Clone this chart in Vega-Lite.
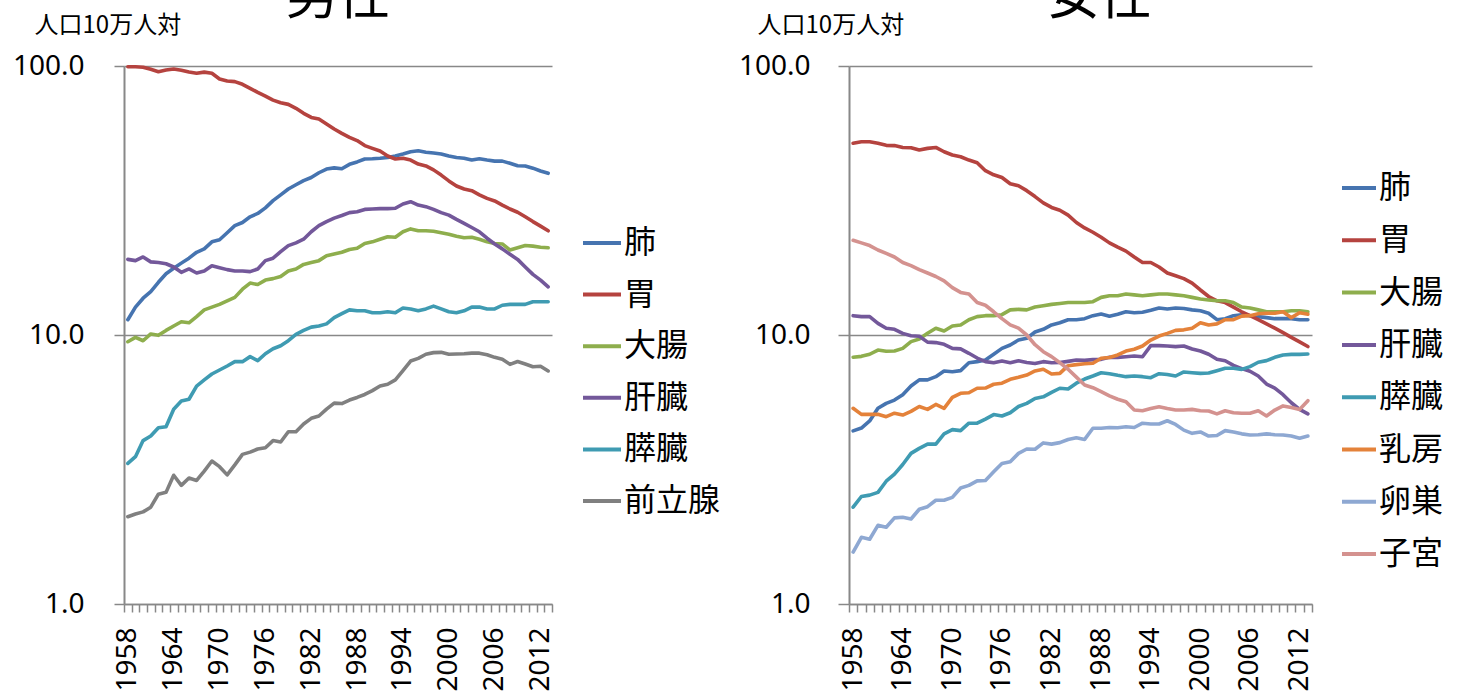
{
  "$schema": "https://vega.github.io/schema/vega-lite/v6.json",
  "background": "white",
  "padding": {"left": 12, "top": -28, "right": 0, "bottom": 0},
  "config": {
    "view": {"stroke": null},
    "axis": {"labelColor": "black", "titleColor": "black"},
    "legend": {"labelColor": "black"}
  },
  "spacing": 17,
  "resolve": {"scale": {"color": "independent"}, "legend": {"color": "independent"}},
  "datasets": {
    "male": [
      {"year":1958,"肺":11.4,"胃":99.4,"大腸":9.44,"肝臓":19.1,"膵臓":3.33,"前立腺":2.11},
      {"year":1959,"肺":12.7,"胃":99.4,"大腸":9.8,"肝臓":18.9,"膵臓":3.53,"前立腺":2.16},
      {"year":1960,"肺":13.7,"胃":99.0,"大腸":9.52,"肝臓":19.5,"膵臓":4.05,"前立腺":2.20},
      {"year":1961,"肺":14.5,"胃":97.2,"大腸":10.09,"肝臓":18.7,"膵臓":4.21,"前立腺":2.29},
      {"year":1962,"肺":15.7,"胃":95.2,"大腸":9.97,"肝臓":18.6,"膵臓":4.52,"前立腺":2.56},
      {"year":1963,"肺":16.9,"胃":96.6,"大腸":10.4,"肝臓":18.4,"膵臓":4.56,"前立腺":2.60},
      {"year":1964,"肺":17.7,"胃":97.5,"大腸":10.8,"肝臓":17.9,"膵臓":5.30,"前立腺":3.01},
      {"year":1965,"肺":18.5,"胃":96.5,"大腸":11.2,"肝臓":17.1,"膵臓":5.68,"前立腺":2.76},
      {"year":1966,"肺":19.3,"胃":95.0,"大腸":11.1,"肝臓":17.6,"膵臓":5.77,"前立腺":2.94},
      {"year":1967,"肺":20.3,"胃":94.0,"大腸":11.7,"肝臓":17.0,"膵臓":6.46,"前立腺":2.88},
      {"year":1968,"肺":20.9,"胃":94.9,"大腸":12.4,"肝臓":17.3,"膵臓":6.81,"前立腺":3.12},
      {"year":1969,"肺":22.2,"胃":94.0,"大腸":12.7,"肝臓":18.1,"膵臓":7.16,"前立腺":3.40},
      {"year":1970,"肺":22.6,"胃":89.5,"大腸":13.0,"肝臓":17.8,"膵臓":7.41,"前立腺":3.24},
      {"year":1971,"肺":24.0,"胃":88.0,"大腸":13.4,"肝臓":17.5,"膵臓":7.67,"前立腺":3.02},
      {"year":1972,"肺":25.5,"胃":87.5,"大腸":13.8,"肝臓":17.3,"膵臓":7.96,"前立腺":3.29},
      {"year":1973,"肺":26.2,"胃":85.5,"大腸":14.8,"肝臓":17.3,"膵臓":7.96,"前立腺":3.60},
      {"year":1974,"肺":27.5,"胃":82.6,"大腸":15.6,"肝臓":17.2,"膵臓":8.31,"前立腺":3.67},
      {"year":1975,"肺":28.3,"胃":79.8,"大腸":15.4,"肝臓":17.6,"膵臓":8.03,"前立腺":3.77},
      {"year":1976,"肺":29.7,"胃":77.3,"大腸":16.0,"肝臓":18.9,"膵臓":8.52,"前立腺":3.81},
      {"year":1977,"肺":31.6,"胃":74.7,"大腸":16.2,"肝臓":19.3,"膵臓":8.89,"前立腺":4.05},
      {"year":1978,"肺":33.2,"胃":73.0,"大腸":16.5,"肝臓":20.4,"膵臓":9.12,"前立腺":4.00},
      {"year":1979,"肺":34.9,"胃":72.0,"大腸":17.3,"肝臓":21.5,"膵臓":9.52,"前立腺":4.37},
      {"year":1980,"肺":36.2,"胃":69.6,"大腸":17.6,"肝臓":22.0,"膵臓":10.06,"前立腺":4.37},
      {"year":1981,"肺":37.5,"胃":66.7,"大腸":18.3,"肝臓":22.7,"膵臓":10.4,"前立腺":4.67},
      {"year":1982,"肺":38.5,"胃":64.4,"大腸":18.6,"肝臓":24.2,"膵臓":10.7,"前立腺":4.90},
      {"year":1983,"肺":40.1,"胃":63.5,"大腸":18.9,"肝臓":25.5,"膵臓":10.8,"前立腺":5.00},
      {"year":1984,"肺":41.4,"胃":60.9,"大腸":19.7,"肝臓":26.4,"膵臓":11.0,"前立腺":5.30},
      {"year":1985,"肺":41.8,"胃":58.3,"大腸":20.0,"肝臓":27.2,"膵臓":11.6,"前立腺":5.58},
      {"year":1986,"肺":41.5,"胃":56.2,"大腸":20.3,"肝臓":27.8,"膵臓":12.0,"前立腺":5.56},
      {"year":1987,"肺":43.1,"胃":54.3,"大腸":20.8,"肝臓":28.5,"膵臓":12.4,"前立腺":5.73},
      {"year":1988,"肺":44.0,"胃":52.8,"大腸":21.0,"肝臓":28.7,"膵臓":12.3,"前立腺":5.86},
      {"year":1989,"肺":45.1,"胃":50.6,"大腸":21.9,"肝臓":29.3,"膵臓":12.3,"前立腺":6.01},
      {"year":1990,"肺":45.2,"胃":49.4,"大腸":22.2,"肝臓":29.4,"膵臓":12.1,"前立腺":6.21},
      {"year":1991,"肺":45.4,"胃":48.3,"大腸":22.7,"肝臓":29.5,"膵臓":12.1,"前立腺":6.46},
      {"year":1992,"肺":45.7,"胃":46.3,"大腸":23.2,"肝臓":29.5,"膵臓":12.2,"前立腺":6.56},
      {"year":1993,"肺":46.3,"胃":45.1,"大腸":23.1,"肝臓":29.6,"膵臓":12.1,"前立腺":6.81},
      {"year":1994,"肺":47.1,"胃":45.4,"大腸":24.2,"肝臓":30.7,"膵臓":12.6,"前立腺":7.37},
      {"year":1995,"肺":48.0,"胃":44.7,"大腸":24.8,"肝臓":31.3,"膵臓":12.5,"前立腺":8.00},
      {"year":1996,"肺":48.4,"胃":43.2,"大腸":24.4,"肝臓":30.4,"膵臓":12.3,"前立腺":8.19},
      {"year":1997,"肺":47.8,"胃":42.5,"大腸":24.4,"肝臓":30.0,"膵臓":12.5,"前立腺":8.48},
      {"year":1998,"肺":47.5,"胃":41.1,"大腸":24.3,"肝臓":29.3,"膵臓":12.8,"前立腺":8.60},
      {"year":1999,"肺":47.1,"胃":39.3,"大腸":24.0,"肝臓":28.5,"膵臓":12.5,"前立腺":8.62},
      {"year":2000,"肺":46.3,"胃":37.4,"大腸":23.7,"肝臓":27.9,"膵臓":12.2,"前立腺":8.48},
      {"year":2001,"肺":45.7,"胃":35.8,"大腸":23.3,"肝臓":26.9,"膵臓":12.1,"前立腺":8.50},
      {"year":2002,"肺":45.4,"胃":34.9,"大腸":23.0,"肝臓":26.0,"膵臓":12.3,"前立腺":8.52},
      {"year":2003,"肺":44.7,"胃":34.4,"大腸":23.1,"肝臓":25.1,"膵臓":12.7,"前立腺":8.56},
      {"year":2004,"肺":45.2,"胃":33.2,"大腸":22.7,"肝臓":24.2,"膵臓":12.7,"前立腺":8.56},
      {"year":2005,"肺":44.7,"胃":32.2,"大腸":22.2,"肝臓":22.9,"膵臓":12.5,"前立腺":8.45},
      {"year":2006,"肺":44.3,"胃":31.5,"大腸":21.9,"肝臓":21.8,"膵臓":12.5,"前立腺":8.26},
      {"year":2007,"肺":44.3,"胃":30.4,"大腸":21.8,"肝臓":20.9,"膵臓":12.9,"前立腺":8.12},
      {"year":2008,"肺":43.5,"胃":29.4,"大腸":20.7,"肝臓":19.95,"膵臓":13.0,"前立腺":7.78},
      {"year":2009,"肺":42.6,"胃":28.6,"大腸":21.1,"肝臓":19.1,"膵臓":13.0,"前立腺":7.97},
      {"year":2010,"肺":42.5,"胃":27.5,"大腸":21.5,"肝臓":17.9,"膵臓":13.0,"前立腺":7.80},
      {"year":2011,"肺":41.7,"胃":26.4,"大腸":21.4,"肝臓":16.8,"膵臓":13.3,"前立腺":7.62},
      {"year":2012,"肺":40.7,"胃":25.4,"大腸":21.2,"肝臓":16.0,"膵臓":13.3,"前立腺":7.65},
      {"year":2013,"肺":39.9,"胃":24.4,"大腸":21.1,"肝臓":15.1,"膵臓":13.3,"前立腺":7.35}
    ],
    "female": [
      {"year":1958,"肺":4.40,"胃":51.6,"大腸":8.27,"肝臓":11.8,"膵臓":2.29,"乳房":5.34,"卵巣":1.56,"子宮":22.5},
      {"year":1959,"肺":4.51,"胃":52.3,"大腸":8.33,"肝臓":11.7,"膵臓":2.51,"乳房":5.07,"卵巣":1.77,"子宮":22.0},
      {"year":1960,"肺":4.79,"胃":52.3,"大腸":8.48,"肝臓":11.7,"膵臓":2.54,"乳房":5.07,"卵巣":1.74,"子宮":21.5},
      {"year":1961,"肺":5.34,"胃":51.6,"大腸":8.79,"肝臓":11.05,"膵臓":2.60,"乳房":5.07,"卵巣":1.96,"子宮":20.7},
      {"year":1962,"肺":5.57,"胃":50.7,"大腸":8.70,"肝臓":10.6,"膵臓":2.86,"乳房":4.97,"卵巣":1.93,"子宮":20.1},
      {"year":1963,"肺":5.73,"胃":50.6,"大腸":8.72,"肝臓":10.5,"膵臓":3.04,"乳房":5.12,"卵巣":2.09,"子宮":19.5},
      {"year":1964,"肺":6.00,"胃":49.8,"大腸":8.92,"肝臓":10.14,"膵臓":3.30,"乳房":5.04,"卵巣":2.10,"子宮":18.6},
      {"year":1965,"肺":6.46,"胃":49.7,"大腸":9.45,"肝臓":9.94,"膵臓":3.63,"乳房":5.20,"卵巣":2.07,"子宮":18.1},
      {"year":1966,"肺":6.81,"胃":48.7,"大腸":9.66,"肝臓":9.90,"膵臓":3.79,"乳房":5.42,"卵巣":2.25,"子宮":17.5},
      {"year":1967,"肺":6.81,"胃":49.4,"大腸":10.15,"肝臓":9.41,"膵臓":3.93,"乳房":5.29,"卵巣":2.30,"子宮":17.0},
      {"year":1968,"肺":7.00,"胃":49.8,"大腸":10.6,"肝臓":9.37,"膵臓":3.93,"乳房":5.52,"卵巣":2.43,"子宮":16.5},
      {"year":1969,"肺":7.35,"胃":48.0,"大腸":10.35,"肝臓":9.23,"膵臓":4.29,"乳房":5.34,"卵巣":2.43,"子宮":15.9},
      {"year":1970,"肺":7.30,"胃":46.7,"大腸":10.8,"肝臓":8.92,"膵臓":4.45,"乳房":5.86,"卵巣":2.49,"子宮":15.0},
      {"year":1971,"肺":7.37,"胃":46.0,"大腸":10.9,"肝臓":8.88,"膵臓":4.41,"乳房":6.07,"卵巣":2.70,"子宮":14.4},
      {"year":1972,"肺":7.89,"胃":44.7,"大腸":11.4,"肝臓":8.55,"膵臓":4.70,"乳房":6.10,"卵巣":2.76,"子宮":14.2},
      {"year":1973,"肺":7.96,"胃":43.7,"大腸":11.7,"肝臓":8.21,"膵臓":4.70,"乳房":6.34,"卵巣":2.87,"子宮":13.2},
      {"year":1974,"肺":8.07,"胃":40.8,"大腸":11.8,"肝臓":7.96,"膵臓":4.87,"乳房":6.35,"卵巣":2.88,"子宮":12.9},
      {"year":1975,"肺":8.48,"胃":39.4,"大腸":11.8,"肝臓":7.89,"膵臓":5.06,"乳房":6.56,"卵巣":3.10,"子宮":12.2},
      {"year":1976,"肺":8.92,"胃":38.5,"大腸":11.9,"肝臓":8.00,"膵臓":5.00,"乳房":6.62,"卵巣":3.33,"子宮":11.5},
      {"year":1977,"肺":9.18,"胃":36.5,"大腸":12.4,"肝臓":7.89,"膵臓":5.14,"乳房":6.84,"卵巣":3.38,"子宮":10.9},
      {"year":1978,"肺":9.58,"胃":35.9,"大腸":12.45,"肝臓":8.02,"膵臓":5.42,"乳房":6.96,"卵巣":3.63,"子宮":10.6},
      {"year":1979,"肺":9.72,"胃":34.4,"大腸":12.4,"肝臓":7.90,"膵臓":5.57,"乳房":7.10,"卵巣":3.77,"子宮":10.0},
      {"year":1980,"肺":10.26,"胃":32.7,"大腸":12.7,"肝臓":7.84,"膵臓":5.81,"乳房":7.35,"卵巣":3.76,"子宮":9.2},
      {"year":1981,"肺":10.5,"胃":31.0,"大腸":12.85,"肝臓":7.96,"膵臓":5.89,"乳房":7.46,"卵巣":3.97,"子宮":8.67},
      {"year":1982,"肺":10.9,"胃":29.8,"大腸":13.0,"肝臓":7.89,"膵臓":6.12,"乳房":7.16,"卵巣":3.93,"子宮":8.31},
      {"year":1983,"肺":11.1,"胃":29.1,"大腸":13.1,"肝臓":7.90,"膵臓":6.34,"乳房":7.20,"卵巣":3.98,"子宮":7.89},
      {"year":1984,"肺":11.4,"胃":27.9,"大腸":13.2,"肝臓":7.98,"膵臓":6.30,"乳房":7.69,"卵巣":4.09,"子宮":7.46},
      {"year":1985,"肺":11.4,"胃":26.2,"大腸":13.2,"肝臓":8.07,"膵臓":6.62,"乳房":7.76,"卵巣":4.15,"子宮":6.97},
      {"year":1986,"肺":11.5,"胃":25.0,"大腸":13.2,"肝臓":8.05,"膵臓":6.86,"乳房":7.82,"卵巣":4.09,"子宮":6.52},
      {"year":1987,"肺":11.8,"胃":24.1,"大腸":13.3,"肝臓":8.10,"膵臓":7.04,"乳房":7.85,"卵巣":4.50,"子宮":6.37},
      {"year":1988,"肺":11.97,"胃":23.1,"大腸":13.8,"肝臓":8.12,"膵臓":7.24,"乳房":8.19,"卵巣":4.50,"子宮":6.16},
      {"year":1989,"肺":11.75,"胃":22.0,"大腸":14.0,"肝臓":8.26,"膵臓":7.18,"乳房":8.25,"卵巣":4.53,"子宮":5.94},
      {"year":1990,"肺":11.95,"胃":21.2,"大腸":14.0,"肝臓":8.26,"膵臓":7.08,"乳房":8.43,"卵巣":4.52,"子宮":5.77},
      {"year":1991,"肺":12.2,"胃":20.5,"大腸":14.2,"肝臓":8.30,"膵臓":7.00,"乳房":8.72,"卵巣":4.56,"子宮":5.65},
      {"year":1992,"肺":12.1,"胃":19.5,"大腸":14.1,"肝臓":8.35,"膵臓":7.04,"乳房":8.85,"卵巣":4.53,"子宮":5.26},
      {"year":1993,"肺":12.15,"胃":18.6,"大腸":14.0,"肝臓":8.30,"膵臓":7.00,"乳房":9.10,"卵巣":4.70,"子宮":5.23},
      {"year":1994,"肺":12.35,"胃":18.6,"大腸":14.1,"肝臓":9.13,"膵臓":6.94,"乳房":9.58,"卵巣":4.67,"子宮":5.33},
      {"year":1995,"肺":12.6,"胃":17.9,"大腸":14.2,"肝臓":9.13,"膵臓":7.18,"乳房":9.91,"卵巣":4.67,"子宮":5.41},
      {"year":1996,"肺":12.5,"胃":17.0,"大腸":14.2,"肝臓":9.10,"膵臓":7.13,"乳房":10.14,"卵巣":4.80,"子宮":5.33},
      {"year":1997,"肺":12.6,"胃":16.6,"大腸":14.1,"肝臓":9.05,"膵臓":7.04,"乳房":10.4,"卵巣":4.65,"子宮":5.26},
      {"year":1998,"肺":12.55,"胃":16.2,"大腸":14.0,"肝臓":9.10,"膵臓":7.29,"乳房":10.45,"卵巣":4.43,"子宮":5.26},
      {"year":1999,"肺":12.4,"胃":15.6,"大腸":13.8,"肝臓":8.87,"膵臓":7.24,"乳房":10.6,"卵巣":4.31,"子宮":5.29},
      {"year":2000,"肺":12.3,"胃":14.7,"大腸":13.6,"肝臓":8.72,"膵臓":7.20,"乳房":11.1,"卵巣":4.36,"子宮":5.23},
      {"year":2001,"肺":12.05,"胃":13.9,"大腸":13.5,"肝臓":8.48,"膵臓":7.22,"乳房":10.9,"卵巣":4.21,"子宮":5.22},
      {"year":2002,"肺":11.4,"胃":13.4,"大腸":13.4,"肝臓":8.12,"膵臓":7.37,"乳房":11.0,"卵巣":4.23,"子宮":5.09},
      {"year":2003,"肺":11.5,"胃":13.2,"大腸":13.4,"肝臓":8.02,"膵臓":7.52,"乳房":11.4,"卵巣":4.41,"子宮":5.23},
      {"year":2004,"肺":11.8,"胃":12.7,"大腸":13.2,"肝臓":7.71,"膵臓":7.52,"乳房":11.4,"卵巣":4.36,"子宮":5.14},
      {"year":2005,"肺":11.9,"胃":12.2,"大腸":12.7,"肝臓":7.50,"膵臓":7.45,"乳房":11.75,"卵巣":4.29,"子宮":5.12},
      {"year":2006,"肺":11.8,"胃":11.8,"大腸":12.6,"肝臓":7.33,"膵臓":7.63,"乳房":11.8,"卵巣":4.25,"子宮":5.12},
      {"year":2007,"肺":11.7,"胃":11.4,"大腸":12.4,"肝臓":7.04,"膵臓":7.92,"乳房":12.0,"卵巣":4.26,"子宮":5.23},
      {"year":2008,"肺":11.6,"胃":11.0,"大腸":12.2,"肝臓":6.57,"膵臓":8.03,"乳房":12.05,"卵巣":4.29,"子宮":5.00},
      {"year":2009,"肺":11.5,"胃":10.6,"大腸":12.2,"肝臓":6.35,"膵臓":8.26,"乳房":12.05,"卵巣":4.26,"子宮":5.26},
      {"year":2010,"肺":11.5,"胃":10.2,"大腸":12.2,"肝臓":6.00,"膵臓":8.43,"乳房":12.2,"卵巣":4.25,"子宮":5.45},
      {"year":2011,"肺":11.5,"胃":9.8,"大腸":12.3,"肝臓":5.60,"膵臓":8.47,"乳房":11.6,"卵巣":4.21,"子宮":5.38},
      {"year":2012,"肺":11.4,"胃":9.43,"大腸":12.3,"肝臓":5.29,"膵臓":8.47,"乳房":12.1,"卵巣":4.13,"子宮":5.29},
      {"year":2013,"肺":11.4,"胃":9.06,"大腸":12.2,"肝臓":5.09,"膵臓":8.50,"乳房":11.95,"卵巣":4.21,"子宮":5.70}
    ]
  },
  "hconcat": [
    {
      "width": 428,
      "height": 538,
      "title": {"text": "男性", "fontSize": 52, "font": "Noto Sans CJK JP", "fontWeight": "normal", "color": "black", "anchor": "middle", "offset": 0, "dy": 12},
      "data": {"name": "male"},
      "transform": [{"fold": ["肺", "胃", "大腸", "肝臓", "膵臓", "前立腺"], "as": ["site", "rate"]}],
      "mark": {"type": "line", "strokeWidth": 3.6, "strokeJoin": "round", "strokeCap": "round"},
      "encoding": {
        "x": {
          "field": "year", "type": "quantitative",
          "scale": {"domain": [1957.5, 2013.5], "nice": false, "zero": false},
          "axis": {
            "title": null, "grid": false,
            "values": [1957.5,1958.5,1959.5,1960.5,1961.5,1962.5,1963.5,1964.5,1965.5,1966.5,1967.5,1968.5,1969.5,1970.5,1971.5,1972.5,1973.5,1974.5,1975.5,1976.5,1977.5,1978.5,1979.5,1980.5,1981.5,1982.5,1983.5,1984.5,1985.5,1986.5,1987.5,1988.5,1989.5,1990.5,1991.5,1992.5,1993.5,1994.5,1995.5,1996.5,1997.5,1998.5,1999.5,2000.5,2001.5,2002.5,2003.5,2004.5,2005.5,2006.5,2007.5,2008.5,2009.5,2010.5,2011.5,2012.5,2013.5],
            "labelExpr": "(datum.value + 0.5 - 1958) % 6 === 0 ? '' + (datum.value + 0.5) : ''",
            "labelOffset": 3.8,
            "labelAngle": 270, "labelAlign": "right", "labelBaseline": "middle",
            "labelFont": "Noto Sans", "labelFontSize": 28, "labelPadding": 15,
            "labelOverlap": false, "labelFlush": false, "labelBound": false,
            "tickSize": 8, "tickColor": "#888888", "tickWidth": 1.5,
            "domainColor": "#888888", "domainWidth": 1.5
          }
        },
        "y": {
          "field": "rate", "type": "quantitative",
          "scale": {"type": "log", "domain": [1, 100], "nice": false},
          "axis": {
            "values": [1, 10, 100], "format": ".1f",
            "grid": true, "gridColor": "#888888", "gridWidth": 1.5,
            "tickSize": 10, "tickColor": "#888888", "tickWidth": 1.5,
            "domainColor": "#888888", "domainWidth": 2,
            "labelFont": "Noto Sans", "labelFontSize": 28, "labelPadding": 30,
            "title": "人口10万人対", "titleFont": "Noto Sans CJK JP", "titleFontSize": 24, "titleFontWeight": "normal",
            "titleAngle": 0, "titleAlign": "left", "titleBaseline": "middle", "titleX": -90, "titleY": -41
          }
        },
        "color": {
          "field": "site", "type": "nominal",
          "scale": {"domain": ["肺", "胃", "大腸", "肝臓", "膵臓", "前立腺"], "range": ["#4674B0", "#B5433F", "#8EAE4D", "#73589A", "#3F9BB2", "#808080"]},
          "legend": {
            "orient": "none", "legendX": 457, "legendY": 156, "title": null,
            "symbolType": "stroke", "symbolSize": 1444, "symbolStrokeWidth": 4,
            "labelFont": "Noto Sans CJK JP", "labelFontSize": 32, "labelOffset": 1, "rowPadding": 14.6
          }
        }
      }
    },
    {
      "width": 463,
      "height": 538,
      "title": {"text": "女性", "fontSize": 52, "font": "Noto Sans CJK JP", "fontWeight": "normal", "color": "black", "anchor": "middle", "offset": 0, "dy": 12, "dx": 19},
      "data": {"name": "female"},
      "transform": [{"fold": ["肺", "胃", "大腸", "肝臓", "膵臓", "乳房", "卵巣", "子宮"], "as": ["site", "rate"]}],
      "mark": {"type": "line", "strokeWidth": 3.6, "strokeJoin": "round", "strokeCap": "round"},
      "encoding": {
        "x": {
          "field": "year", "type": "quantitative",
          "scale": {"domain": [1957.5, 2013.5], "nice": false, "zero": false},
          "axis": {
            "title": null, "grid": false,
            "values": [1957.5,1958.5,1959.5,1960.5,1961.5,1962.5,1963.5,1964.5,1965.5,1966.5,1967.5,1968.5,1969.5,1970.5,1971.5,1972.5,1973.5,1974.5,1975.5,1976.5,1977.5,1978.5,1979.5,1980.5,1981.5,1982.5,1983.5,1984.5,1985.5,1986.5,1987.5,1988.5,1989.5,1990.5,1991.5,1992.5,1993.5,1994.5,1995.5,1996.5,1997.5,1998.5,1999.5,2000.5,2001.5,2002.5,2003.5,2004.5,2005.5,2006.5,2007.5,2008.5,2009.5,2010.5,2011.5,2012.5,2013.5],
            "labelExpr": "(datum.value + 0.5 - 1958) % 6 === 0 ? '' + (datum.value + 0.5) : ''",
            "labelOffset": 4.1,
            "labelAngle": 270, "labelAlign": "right", "labelBaseline": "middle",
            "labelFont": "Noto Sans", "labelFontSize": 28, "labelPadding": 15,
            "labelOverlap": false, "labelFlush": false, "labelBound": false,
            "tickSize": 8, "tickColor": "#888888", "tickWidth": 1.5,
            "domainColor": "#888888", "domainWidth": 1.5
          }
        },
        "y": {
          "field": "rate", "type": "quantitative",
          "scale": {"type": "log", "domain": [1, 100], "nice": false},
          "axis": {
            "values": [1, 10, 100], "format": ".1f",
            "grid": true, "gridColor": "#888888", "gridWidth": 1.5,
            "tickSize": 11, "tickColor": "#888888", "tickWidth": 1.5,
            "domainColor": "#888888", "domainWidth": 2,
            "labelFont": "Noto Sans", "labelFontSize": 28, "labelPadding": 28,
            "title": "人口10万人対", "titleFont": "Noto Sans CJK JP", "titleFontSize": 24, "titleFontWeight": "normal",
            "titleAngle": 0, "titleAlign": "left", "titleBaseline": "middle", "titleX": -92, "titleY": -41
          }
        },
        "color": {
          "field": "site", "type": "nominal",
          "scale": {"domain": ["肺", "胃", "大腸", "肝臓", "膵臓", "乳房", "卵巣", "子宮"], "range": ["#4674B0", "#B5433F", "#8EAE4D", "#73589A", "#3F9BB2", "#E4823A", "#8EA8D2", "#D4928F"]},
          "legend": {
            "orient": "none", "legendX": 491, "legendY": 103, "title": null,
            "symbolType": "stroke", "symbolSize": 1156, "symbolStrokeWidth": 4,
            "labelFont": "Noto Sans CJK JP", "labelFontSize": 32, "labelOffset": 1, "rowPadding": 17.3
          }
        }
      }
    }
  ]
}
